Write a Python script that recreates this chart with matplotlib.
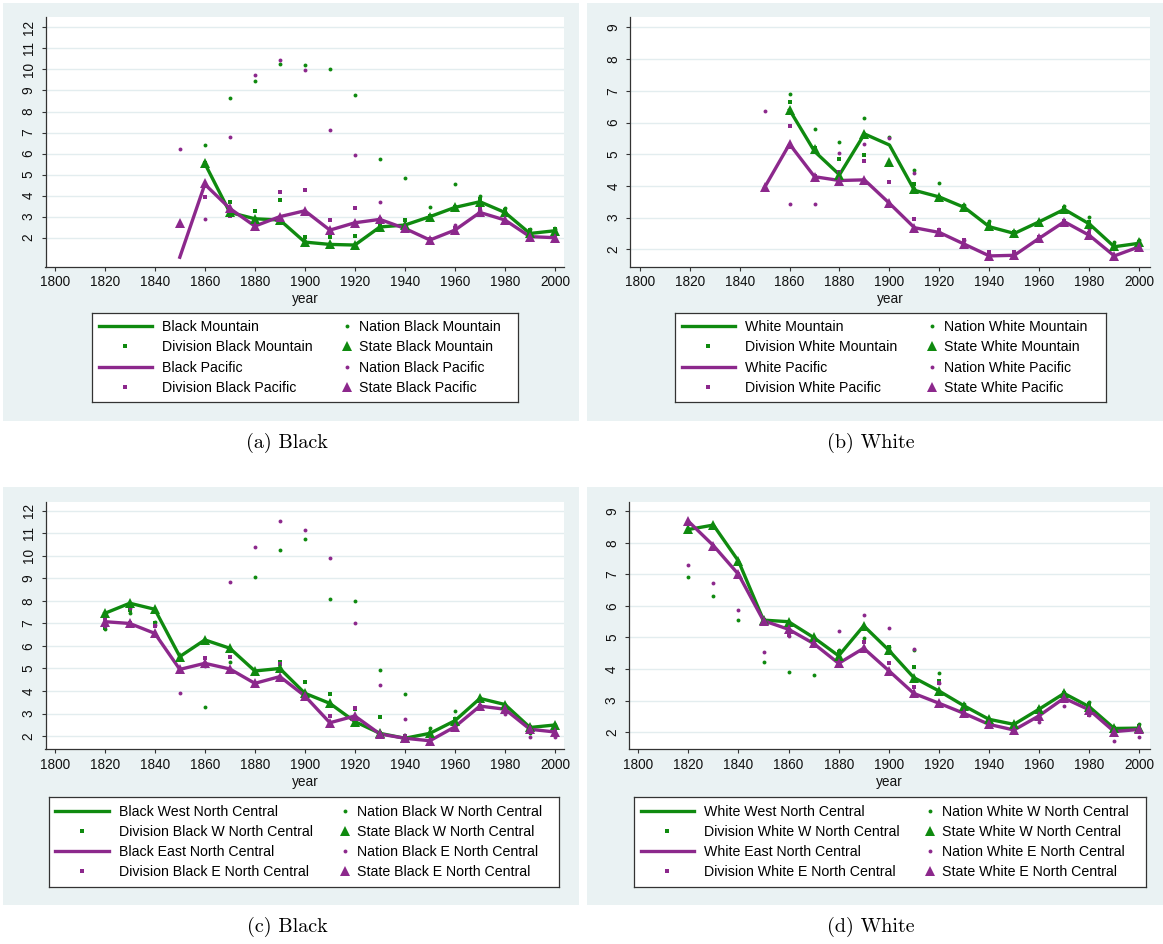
import numpy as np
import matplotlib.pyplot as plt
from matplotlib.patches import Rectangle

W, H = 1163, 944
GREEN = '#0f8a0f'
PURPLE = '#8c288c'
PANEL_BG = '#eaf2f3'
nan = np.nan

years_top = list(range(1850, 2001, 10))
years_bottom = list(range(1820, 2001, 10))

# (a) Black, Mountain vs Pacific
black_mtn_line = [nan, 5.53, 3.20, 2.90, 2.84, 1.79, 1.68, 1.65, 2.51, 2.60, 3.00, 3.44, 3.71, 3.20, 2.20, 2.33]
black_mtn_nation = [nan, 6.40, 8.64, 9.45, 10.24, 10.19, 10.00, 8.78, 5.72, 4.82, 3.47, 4.54, 3.98, 3.43, 2.43, 2.40]
black_mtn_div = [nan, 5.55, 3.71, 3.27, 3.79, 2.02, 2.05, 2.10, 2.60, 2.84, 3.05, 3.45, 3.85, 3.30, 2.35, 2.40]
black_mtn_state = [nan, 5.55, 3.20, 2.90, 2.84, 1.79, 1.68, 1.65, 2.51, 2.60, 3.00, 3.44, 3.71, 3.20, 2.20, 2.33]
black_pac_line = [1.07, 4.54, 3.39, 2.55, 3.00, 3.28, 2.36, 2.71, 2.87, 2.44, 1.89, 2.36, 3.20, 2.84, 2.05, 2.00]
black_pac_nation = [6.20, 2.89, 6.77, 9.72, 10.43, 9.97, 7.13, 5.93, 3.71, 2.55, 1.95, 2.60, 3.30, 3.20, 2.10, 2.30]
black_pac_div = [nan, 3.95, 3.05, 2.60, 4.17, 4.28, 2.82, 3.43, 2.90, 2.50, 1.95, 2.45, 3.35, 3.10, 2.10, 2.00]
black_pac_state = [2.70, 4.60, 3.39, 2.55, 3.00, 3.28, 2.36, 2.71, 2.87, 2.44, 1.89, 2.36, 3.20, 2.84, 2.05, 2.00]

# (b) White, Mountain vs Pacific
white_mtn_line = [nan, 6.40, 5.09, 4.35, 5.64, 5.29, 3.86, 3.65, 3.32, 2.71, 2.50, 2.87, 3.26, 2.80, 2.08, 2.19]
white_mtn_nation = [nan, 6.90, 5.81, 5.39, 6.13, 5.55, 4.50, 4.09, 3.40, 2.88, 2.55, 2.90, 3.35, 3.03, 2.22, 2.28]
white_mtn_div = [nan, 6.66, 5.20, 4.84, 4.97, 4.65, 4.05, 3.65, 3.35, 2.80, 2.55, 2.85, 3.30, 2.85, 2.15, 2.22]
white_mtn_state = [nan, 6.40, 5.15, 4.35, 5.64, 4.74, 3.90, 3.65, 3.32, 2.75, 2.50, 2.87, 3.26, 2.80, 2.10, 2.22]
white_pac_line = [3.95, 5.32, 4.29, 4.17, 4.19, 3.45, 2.68, 2.53, 2.16, 1.79, 1.81, 2.35, 2.87, 2.44, 1.79, 2.08]
white_pac_nation = [6.35, 3.43, 3.43, 5.05, 5.32, 5.50, 4.42, 3.58, 2.30, 1.85, 1.90, 2.35, 2.85, 2.63, 1.80, 2.05]
white_pac_div = [nan, 5.89, 4.30, 4.45, 4.79, 4.12, 2.94, 2.60, 2.30, 1.90, 1.90, 2.40, 2.90, 2.50, 1.80, 2.10]
white_pac_state = [3.95, 5.32, 4.29, 4.17, 4.19, 3.45, 2.68, 2.53, 2.16, 1.79, 1.81, 2.35, 2.87, 2.44, 1.79, 2.08]

# (c) Black, West vs East North Central
black_wnc_line = [7.45, 7.90, 7.63, 5.53, 6.27, 5.90, 4.89, 5.00, 3.90, 3.45, 2.64, 2.12, 1.90, 2.12, 2.68, 3.67, 3.40, 2.38, 2.49]
black_wnc_nation = [6.74, 7.48, 7.05, 5.50, 3.29, 5.29, 9.08, 10.25, 10.76, 8.07, 8.01, 4.93, 3.85, 2.37, 3.10, 3.70, 3.40, 2.12, 2.50]
black_wnc_div = [6.80, 7.60, 7.00, 5.45, 5.10, 5.50, 4.80, 5.28, 4.41, 3.85, 3.20, 2.86, 2.00, 2.10, 2.75, 3.65, 3.35, 2.40, 2.45]
black_wnc_state = [7.45, 7.90, 7.63, 5.53, 6.27, 5.90, 4.89, 5.00, 3.90, 3.45, 2.64, 2.12, 1.90, 2.12, 2.68, 3.67, 3.40, 2.38, 2.49]
black_enc_line = [7.08, 7.00, 6.56, 4.96, 5.23, 4.98, 4.34, 4.64, 3.78, 2.59, 2.89, 2.09, 1.90, 1.79, 2.41, 3.33, 3.19, 2.30, 2.18]
black_enc_nation = [6.90, 7.67, 6.93, 3.90, 5.10, 8.83, 10.41, 11.56, 11.16, 9.93, 7.02, 4.25, 2.77, 1.85, 2.60, 3.30, 2.96, 1.94, 1.94]
black_enc_div = [7.23, 7.00, 6.90, 4.95, 5.48, 5.53, 4.81, 5.19, 3.80, 2.89, 3.26, 2.15, 2.00, 1.80, 2.50, 3.35, 3.10, 2.25, 2.20]
black_enc_state = [7.08, 7.00, 6.56, 4.96, 5.23, 4.98, 4.34, 4.64, 3.78, 2.59, 2.89, 2.09, 1.90, 1.79, 2.41, 3.33, 3.19, 2.30, 2.18]

# (d) White, West vs East North Central
white_wnc_line = [8.42, 8.56, 7.42, 5.55, 5.50, 5.00, 4.42, 5.37, 4.60, 3.73, 3.31, 2.84, 2.41, 2.25, 2.73, 3.23, 2.81, 2.12, 2.13]
white_wnc_nation = [6.92, 6.30, 5.54, 4.21, 3.92, 3.80, 4.60, 4.98, 4.70, 4.60, 3.89, 2.90, 2.40, 2.25, 2.75, 3.25, 2.97, 2.15, 2.26]
white_wnc_div = [8.40, 8.50, 7.40, 5.55, 5.10, 4.95, 4.55, 5.30, 4.70, 4.08, 3.62, 2.85, 2.40, 2.25, 2.75, 3.25, 2.90, 2.15, 2.20]
white_wnc_state = [8.42, 8.56, 7.42, 5.55, 5.50, 5.00, 4.42, 5.37, 4.60, 3.73, 3.31, 2.84, 2.41, 2.25, 2.73, 3.23, 2.81, 2.12, 2.13]
white_enc_line = [8.68, 7.91, 7.00, 5.53, 5.26, 4.81, 4.18, 4.66, 3.95, 3.23, 2.92, 2.60, 2.25, 2.07, 2.52, 3.08, 2.71, 2.02, 2.09]
white_enc_nation = [7.30, 6.72, 5.88, 4.55, 5.05, 4.80, 5.22, 5.70, 5.31, 4.65, 3.55, 2.55, 2.20, 2.05, 2.32, 2.84, 2.55, 1.72, 1.85]
white_enc_div = [8.60, 7.90, 7.00, 5.50, 5.08, 4.75, 4.15, 4.85, 4.18, 3.44, 3.55, 2.60, 2.20, 2.05, 2.45, 3.00, 2.55, 2.00, 2.05]
white_enc_state = [8.68, 7.91, 7.00, 5.53, 5.26, 4.81, 4.18, 4.66, 3.95, 3.23, 2.92, 2.60, 2.25, 2.07, 2.52, 3.08, 2.71, 2.02, 2.09]

panels = [
    dict(years=years_top, caption='(a) Black',
         groups=[('Black Mountain', 'Black Mountain', black_mtn_line, black_mtn_nation, black_mtn_div, black_mtn_state),
                 ('Black Pacific', 'Black Pacific', black_pac_line, black_pac_nation, black_pac_div, black_pac_state)],
         bg=(3, 3, 579, 421), box=(45.5, 17.3, 564.2, 266.7), xlim=(1796.3, 2003.7), ylim=(0.62, 12.48),
         yticks=range(2, 13), leg=(92, 313, 518, 402), col2=255, cap=(287, 443)),
    dict(years=years_top, caption='(b) White',
         groups=[('White Mountain', 'White Mountain', white_mtn_line, white_mtn_nation, white_mtn_div, white_mtn_state),
                 ('White Pacific', 'White Pacific', white_pac_line, white_pac_nation, white_pac_div, white_pac_state)],
         bg=(587, 3, 1163, 421), box=(630.4, 17.3, 1150, 266.7), xlim=(1796.3, 2004.3), ylim=(1.45, 9.32),
         yticks=range(2, 10), leg=(675, 313, 1106, 402), col2=257, cap=(871, 443)),
    dict(years=years_bottom, caption='(c) Black',
         groups=[('Black West North Central', 'Black W North Central', black_wnc_line, black_wnc_nation, black_wnc_div, black_wnc_state),
                 ('Black East North Central', 'Black E North Central', black_enc_line, black_enc_nation, black_enc_div, black_enc_state)],
         bg=(3, 487, 579, 905), box=(45.5, 501.7, 564.2, 749.3), xlim=(1796.3, 2003.7), ylim=(1.41, 12.41),
         yticks=range(2, 13), leg=(49, 797, 559, 887), col2=296, cap=(287, 927)),
    dict(years=years_bottom, caption='(d) White',
         groups=[('White West North Central', 'White W North Central', white_wnc_line, white_wnc_nation, white_wnc_div, white_wnc_state),
                 ('White East North Central', 'White E North Central', white_enc_line, white_enc_nation, white_enc_div, white_enc_state)],
         bg=(587, 487, 1163, 905), box=(629, 502, 1150, 749.3), xlim=(1796.3, 2004.3), ylim=(1.46, 9.29),
         yticks=range(2, 10), leg=(634, 797, 1146, 887), col2=296, cap=(871, 927)),
]

plt.rcParams['font.family'] = ['Liberation Sans', 'DejaVu Sans']


def px_rect(x0, y0, x1, y1):
    return [x0 / W, 1 - y1 / H, (x1 - x0) / W, (y1 - y0) / H]


fig = plt.figure(figsize=(W / 100, H / 100), dpi=100)
fig.patch.set_facecolor('white')

for p in panels:
    bx = px_rect(*p['bg'])
    fig.add_artist(Rectangle((bx[0], bx[1]), bx[2], bx[3], transform=fig.transFigure,
                             facecolor=PANEL_BG, edgecolor='none', zorder=-5))

    ax = fig.add_axes(px_rect(*p['box']))
    ax.set_facecolor('white')
    col1, col2 = [], []
    for (name, short, line, nation, div, state), color in zip(p['groups'], (GREEN, PURPLE)):
        ln, = ax.plot(p['years'], line, color=color, lw=2.4, zorder=3, label=name)
        nt, = ax.plot(p['years'], nation, ls='none', marker='o', ms=2.8, mew=0, color=color, zorder=4,
                      label='Nation ' + short)
        dv, = ax.plot(p['years'], div, ls='none', marker='s', ms=2.6, mew=0, color=color, zorder=4,
                      label='Division ' + short)
        st, = ax.plot(p['years'], state, ls='none', marker='^', ms=6.5, mew=0, color=color, zorder=5,
                      label='State ' + short)
        col1 += [ln, dv]
        col2 += [nt, st]

    ax.set_xlim(*p['xlim'])
    ax.set_ylim(*p['ylim'])
    ax.set_xticks(range(1800, 2001, 20))
    ax.set_yticks(list(p['yticks']))
    ax.grid(axis='y', color='#e3edef', lw=1.0)
    ax.set_axisbelow(True)
    for s in ('top', 'right'):
        ax.spines[s].set_visible(False)
    for s in ('left', 'bottom'):
        ax.spines[s].set_color('#333333')
        ax.spines[s].set_linewidth(0.9)
    ax.tick_params(length=3.2, width=0.8, color='#333333', labelsize=9.8, labelcolor='#111111')
    ax.tick_params(axis='x', pad=3)
    ax.tick_params(axis='y', labelrotation=90, pad=4)
    for t in ax.get_yticklabels():
        t.set_verticalalignment('center')
    ax.set_xlabel('year', fontsize=9.8, labelpad=2, color='#111111')

    # legend box: two columns laid out separately
    lax = fig.add_axes(px_rect(*p['leg']))
    lax.set_xticks([])
    lax.set_yticks([])
    lax.set_facecolor('white')
    for s in lax.spines.values():
        s.set_color('#333333')
        s.set_linewidth(0.9)
    lw_box = p['leg'][2] - p['leg'][0]
    common = dict(loc='center left', frameon=False, borderpad=0, borderaxespad=0,
                  labelspacing=0.43, fontsize=10.2, numpoints=1)
    leg1 = lax.legend(col1, [h.get_label() for h in col1], bbox_to_anchor=(6.5 / lw_box, 0.5),
                      handlelength=3.8, handletextpad=0.7, **common)
    lax.add_artist(leg1)
    lax.legend(col2, [h.get_label() for h in col2], bbox_to_anchor=((p['col2'] - 5.7) / lw_box, 0.5),
               handlelength=0.8, handletextpad=0.45, **common)

    fig.text(p['cap'][0] / W, 1 - p['cap'][1] / H, p['caption'], ha='center', va='center',
             fontfamily='cmr10', fontsize=14.5)

fig.savefig('out.png', dpi=100)
